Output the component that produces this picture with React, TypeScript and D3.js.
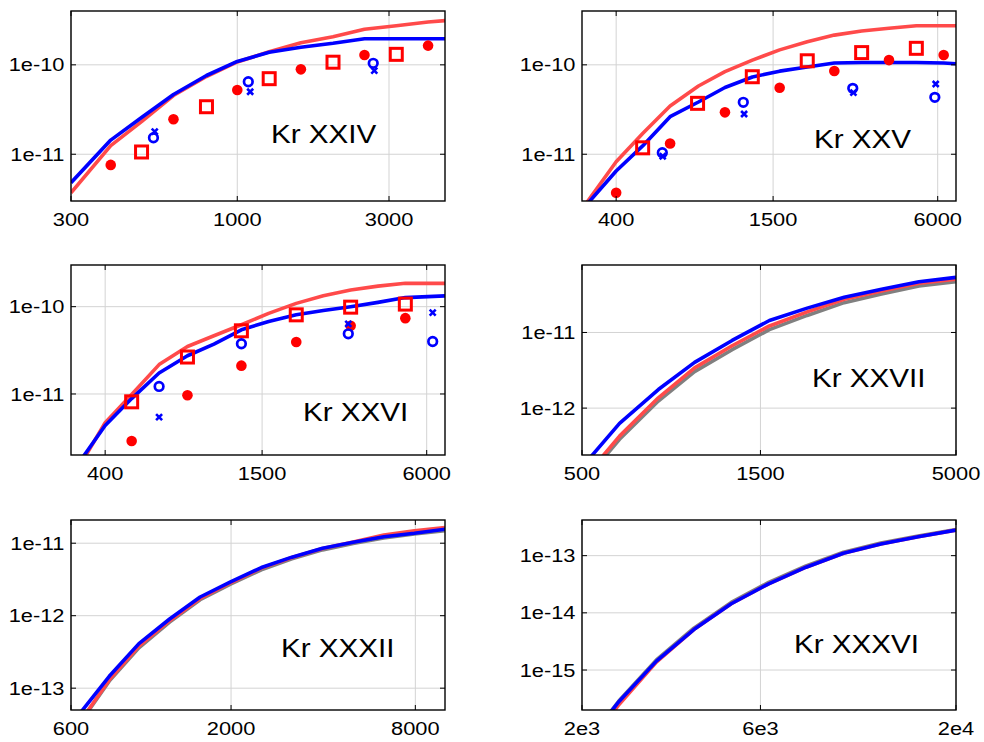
import React from 'react';
import * as d3 from 'd3';

// ---------- Kr XXIV ----------
const kr24Energy = [300, 400, 500, 630, 800, 1000, 1260, 1585, 2000, 2512, 3162, 3981, 4500];
const kr24Blue = [4.8e-12, 1.44e-11, 2.58e-11, 4.66e-11, 7.6e-11, 1.09e-10, 1.38e-10, 1.57e-10, 1.74e-10, 1.96e-10, 1.96e-10, 1.96e-10, 1.96e-10];
const kr24Red = [3.71e-12, 1.25e-11, 2.32e-11, 4.54e-11, 7.4e-11, 1.076e-10, 1.4e-10, 1.77e-10, 2.06e-10, 2.5e-10, 2.74e-10, 3.01e-10, 3.12e-10];
const kr24DotE = [400, 630, 1000, 1585, 2512, 3981];
const kr24DotV = [7.6e-12, 2.46e-11, 5.23e-11, 8.9e-11, 1.29e-10, 1.64e-10];
const kr24SqE = [500, 800, 1260, 2000, 3162];
const kr24SqV = [1.06e-11, 3.4e-11, 7.0e-11, 1.07e-10, 1.31e-10];
const kr24RingE = [545, 1083, 2676];
const kr24RingV = [1.53e-11, 6.47e-11, 1.04e-10];
const kr24CrossE = [550, 1098, 2697];
const kr24CrossV = [1.79e-11, 5.0e-11, 8.6e-11];

// ---------- Kr XXV ----------
const kr25Energy = [300, 400, 500, 630, 800, 1000, 1260, 1585, 2000, 2512, 3162, 3981, 5012, 6310, 7000];
const kr25Blue = [2.38e-12, 6.49e-12, 1.24e-11, 2.63e-11, 3.84e-11, 5.58e-11, 7.31e-11, 8.5e-11, 9.46e-11, 1.05e-10, 1.06e-10, 1.06e-10, 1.06e-10, 1.05e-10, 1.03e-10];
const kr25Red = [2.43e-12, 8.25e-12, 1.71e-11, 3.46e-11, 5.8e-11, 8.38e-11, 1.13e-10, 1.47e-10, 1.81e-10, 2.15e-10, 2.39e-10, 2.56e-10, 2.74e-10, 2.74e-10, 2.74e-10];
const kr25DotE = [400, 630, 1000, 1585, 2512, 3981, 6310];
const kr25DotV = [3.71e-12, 1.32e-11, 2.94e-11, 5.55e-11, 8.53e-11, 1.13e-10, 1.29e-10];
const kr25SqE = [500, 794, 1259, 2000, 3162, 5012];
const kr25SqV = [1.18e-11, 3.71e-11, 7.36e-11, 1.11e-10, 1.37e-10, 1.53e-10];
const kr25RingE = [590, 1167, 2934, 5857];
const kr25RingV = [1.04e-11, 3.81e-11, 5.46e-11, 4.33e-11];
const kr25CrossE = [592, 1175, 2950, 5900];
const kr25CrossV = [9.5e-12, 2.82e-11, 4.88e-11, 6.1e-11];

// ---------- Kr XXVI ----------
const kr26Energy = [300, 400, 500, 630, 800, 1000, 1260, 1585, 2000, 2512, 3162, 3981, 5012, 7000];
const kr26Blue = [1.21e-12, 4.36e-12, 8.85e-12, 1.74e-11, 2.74e-11, 3.73e-11, 5.43e-11, 6.76e-11, 8.06e-11, 9.02e-11, 1.0e-10, 1.12e-10, 1.27e-10, 1.33e-10];
const kr26Red = [1.02e-12, 4.68e-12, 9.84e-12, 2.17e-11, 3.5e-11, 4.64e-11, 6.2e-11, 8.38e-11, 1.09e-10, 1.33e-10, 1.55e-10, 1.72e-10, 1.85e-10, 1.85e-10];
const kr26DotE = [500, 800, 1260, 2000, 3162, 5012];
const kr26DotV = [2.89e-12, 9.66e-12, 2.11e-11, 3.93e-11, 6.03e-11, 7.39e-11];
const kr26SqE = [500, 800, 1260, 2000, 3162, 5012];
const kr26SqV = [8.13e-12, 2.65e-11, 5.29e-11, 8.06e-11, 9.87e-11, 1.07e-10];
const kr26RingE = [630, 1260, 3100, 6310];
const kr26RingV = [1.22e-11, 3.76e-11, 4.89e-11, 3.99e-11];
const kr26CrossE = [630, 3100, 6310];
const kr26CrossV = [5.43e-12, 6.36e-11, 8.56e-11];

// ---------- Kr XXVII ----------
const kr27Energy = [500, 630, 800, 1000, 1260, 1585, 2000, 2512, 3162, 3981, 5000];
const kr27Blue = [1.66e-13, 6.29e-13, 1.76e-12, 4.03e-12, 7.85e-12, 1.44e-11, 2.1e-11, 2.92e-11, 3.73e-11, 4.69e-11, 5.36e-11];
const kr27Red = [1.1e-13, 4.26e-13, 1.37e-12, 3.4e-12, 6.68e-12, 1.22e-11, 1.87e-11, 2.75e-11, 3.54e-11, 4.47e-11, 5.05e-11];
const kr27Gray = [1.0e-13, 3.87e-13, 1.24e-12, 3.04e-12, 5.92e-12, 1.09e-11, 1.68e-11, 2.48e-11, 3.23e-11, 4.11e-11, 4.69e-11];

// ---------- Kr XXXII ----------
const kr32Energy = [600, 800, 1000, 1260, 1585, 2000, 2512, 3162, 3981, 5012, 6310, 7943, 10000];
const kr32Blue = [3.14e-14, 1.46e-13, 4.12e-13, 9.0e-13, 1.81e-12, 2.96e-12, 4.62e-12, 6.42e-12, 8.53e-12, 1.03e-11, 1.23e-11, 1.37e-11, 1.56e-11];
const kr32Red = [2.26e-14, 1.3e-13, 3.8e-13, 8.53e-13, 1.73e-12, 2.87e-12, 4.53e-12, 6.34e-12, 8.43e-12, 1.04e-11, 1.3e-11, 1.48e-11, 1.64e-11];
const kr32Gray = [2.2e-14, 1.25e-13, 3.6e-13, 8.14e-13, 1.66e-12, 2.75e-12, 4.3e-12, 6.08e-12, 8.09e-12, 9.93e-12, 1.18e-11, 1.34e-11, 1.49e-11];

// ---------- Kr XXXVI ----------
const kr36Energy = [2000, 2512, 3162, 3981, 5012, 6310, 7943, 10000, 12589, 15849, 20000];
const kr36Blue = [4.2e-17, 2.82e-16, 1.43e-15, 5.1e-15, 1.44e-14, 3.22e-14, 6.28e-14, 1.1e-13, 1.6e-13, 2.14e-13, 2.8e-13];
const kr36Red = [3.5e-17, 2.5e-16, 1.38e-15, 5.1e-15, 1.44e-14, 3.22e-14, 6.28e-14, 1.1e-13, 1.6e-13, 2.14e-13, 2.8e-13];
const kr36Gray = [4.2e-17, 2.9e-16, 1.5e-15, 5.4e-15, 1.52e-14, 3.4e-14, 6.6e-14, 1.15e-13, 1.66e-13, 2.2e-13, 2.86e-13];

// ---------- axis ticks ----------
const ticksX24 = [300, 1000, 3000];
const labelsX24 = ['300', '1000', '3000'];
const ticksX25 = [400, 1500, 6000];
const labelsX25 = ['400', '1500', '6000'];
const ticksX27 = [500, 1500, 5000];
const labelsX27 = ['500', '1500', '5000'];
const ticksX32 = [600, 2000, 8000];
const labelsX32 = ['600', '2000', '8000'];
const ticksX36 = [2000, 6000, 20000];
const labelsX36 = ['2e3', '6e3', '2e4'];
const ticksY10 = [1e-10, 1e-11];
const labelsY10 = ['1e-10', '1e-11'];
const ticksY11 = [1e-11, 1e-12];
const labelsY11 = ['1e-11', '1e-12'];
const ticksY32 = [1e-11, 1e-12, 1e-13];
const labelsY32 = ['1e-11', '1e-12', '1e-13'];
const ticksY36 = [1e-13, 1e-14, 1e-15];
const labelsY36 = ['1e-13', '1e-14', '1e-15'];

type Pts = { x: number[]; y: number[] };
interface PanelSpec {
  id: string;
  title: string;
  col: number;
  row: number;
  xDomain: [number, number];
  yDomain: [number, number];
  xTicks: number[];
  xLabels: string[];
  yTicks: number[];
  yLabels: string[];
  titleDx: number;
  titleDy: number;
  gray?: Pts;
  red: Pts;
  blue: Pts;
  dots?: Pts;
  squares?: Pts;
  rings?: Pts;
  crosses?: Pts;
}

const panels: PanelSpec[] = [
  {
    id: 'p24', title: 'Kr XXIV', col: 0, row: 0,
    xDomain: [300, 4500], yDomain: [3e-12, 4e-10],
    xTicks: ticksX24, xLabels: labelsX24, yTicks: ticksY10, yLabels: labelsY10,
    titleDx: 200, titleDy: 132,
    red: { x: kr24Energy, y: kr24Red }, blue: { x: kr24Energy, y: kr24Blue },
    dots: { x: kr24DotE, y: kr24DotV }, squares: { x: kr24SqE, y: kr24SqV },
    rings: { x: kr24RingE, y: kr24RingV }, crosses: { x: kr24CrossE, y: kr24CrossV },
  },
  {
    id: 'p25', title: 'Kr XXV', col: 1, row: 0,
    xDomain: [300, 7000], yDomain: [3e-12, 4e-10],
    xTicks: ticksX25, xLabels: labelsX25, yTicks: ticksY10, yLabels: labelsY10,
    titleDx: 232, titleDy: 137,
    red: { x: kr25Energy, y: kr25Red }, blue: { x: kr25Energy, y: kr25Blue },
    dots: { x: kr25DotE, y: kr25DotV }, squares: { x: kr25SqE, y: kr25SqV },
    rings: { x: kr25RingE, y: kr25RingV }, crosses: { x: kr25CrossE, y: kr25CrossV },
  },
  {
    id: 'p26', title: 'Kr XXVI', col: 0, row: 1,
    xDomain: [300, 7000], yDomain: [2e-12, 3e-10],
    xTicks: ticksX25, xLabels: labelsX25, yTicks: ticksY10, yLabels: labelsY10,
    titleDx: 232, titleDy: 156,
    red: { x: kr26Energy, y: kr26Red }, blue: { x: kr26Energy, y: kr26Blue },
    dots: { x: kr26DotE, y: kr26DotV }, squares: { x: kr26SqE, y: kr26SqV },
    rings: { x: kr26RingE, y: kr26RingV }, crosses: { x: kr26CrossE, y: kr26CrossV },
  },
  {
    id: 'p27', title: 'Kr XXVII', col: 1, row: 1,
    xDomain: [500, 5000], yDomain: [2.4e-13, 7.8e-11],
    xTicks: ticksX27, xLabels: labelsX27, yTicks: ticksY11, yLabels: labelsY11,
    titleDx: 230, titleDy: 122,
    gray: { x: kr27Energy, y: kr27Gray },
    red: { x: kr27Energy, y: kr27Red }, blue: { x: kr27Energy, y: kr27Blue },
  },
  {
    id: 'p32', title: 'Kr XXXII', col: 0, row: 2,
    xDomain: [600, 10000], yDomain: [5e-14, 2.09e-11],
    xTicks: ticksX32, xLabels: labelsX32, yTicks: ticksY32, yLabels: labelsY32,
    titleDx: 210, titleDy: 137,
    gray: { x: kr32Energy, y: kr32Gray },
    red: { x: kr32Energy, y: kr32Red }, blue: { x: kr32Energy, y: kr32Blue },
  },
  {
    id: 'p36', title: 'Kr XXXVI', col: 1, row: 2,
    xDomain: [2000, 20000], yDomain: [2e-16, 4.2e-13],
    xTicks: ticksX36, xLabels: labelsX36, yTicks: ticksY36, yLabels: labelsY36,
    titleDx: 212, titleDy: 133,
    gray: { x: kr36Energy, y: kr36Gray },
    red: { x: kr36Energy, y: kr36Red }, blue: { x: kr36Energy, y: kr36Blue },
  },
];

const COL_LEFT = [71, 582];
const ROW_TOP = [11, 265, 520];
const BOX_W = 374;
const BOX_H = 190;

const FONT = 'Liberation Sans, Arial, Helvetica, sans-serif';
const RED_LINE = '#ff4a4a';
const RED_MARK = '#ff0000';
const BLUE = '#0000ff';
const GRAY = '#808080';
const GRID = '#d3d3d3';

function PanelView({ p }: { p: PanelSpec }) {
  const left = COL_LEFT[p.col];
  const top = ROW_TOP[p.row];
  const x = d3.scaleLog().domain(p.xDomain).range([0, BOX_W]);
  const y = d3.scaleLog().domain(p.yDomain).range([BOX_H, 0]);
  const lineGen = d3
    .line<[number, number]>()
    .x((d) => x(d[0]))
    .y((d) => y(d[1]));
  const path = (s: Pts) => lineGen(s.x.map((e, i) => [e, s.y[i]] as [number, number])) || '';
  const clipId = `clip-${p.id}`;
  const tick = 5;
  return (
    <g transform={`translate(${left},${top})`}>
      <defs>
        <clipPath id={clipId}>
          <rect x={0} y={0} width={BOX_W} height={BOX_H} />
        </clipPath>
      </defs>
      <rect x={0} y={0} width={BOX_W} height={BOX_H} fill="#fff" />
      {p.xTicks.map((t) => (
        <line key={`gx${t}`} x1={x(t)} x2={x(t)} y1={0} y2={BOX_H} stroke={GRID} strokeWidth={1} />
      ))}
      {p.yTicks.map((t) => (
        <line key={`gy${t}`} x1={0} x2={BOX_W} y1={y(t)} y2={y(t)} stroke={GRID} strokeWidth={1} />
      ))}
      <g clipPath={`url(#${clipId})`} fill="none" strokeLinejoin="round">
        {p.gray && <path d={path(p.gray)} stroke={GRAY} strokeWidth={3.6} />}
        <path d={path(p.red)} stroke={RED_LINE} strokeWidth={3.6} />
        <path d={path(p.blue)} stroke={BLUE} strokeWidth={3.6} />
      </g>
      {p.dots &&
        p.dots.x.map((e, i) => (
          <circle key={`d${i}`} cx={x(e)} cy={y(p.dots!.y[i])} r={5.3} fill={RED_MARK} />
        ))}
      {p.squares &&
        p.squares.x.map((e, i) => (
          <rect
            key={`s${i}`}
            x={x(e) - 6}
            y={y(p.squares!.y[i]) - 6}
            width={12}
            height={12}
            fill="none"
            stroke={RED_MARK}
            strokeWidth={3}
          />
        ))}
      {p.rings &&
        p.rings.x.map((e, i) => (
          <circle key={`r${i}`} cx={x(e)} cy={y(p.rings!.y[i])} r={4.3} fill="none" stroke={BLUE} strokeWidth={2.7} />
        ))}
      {p.crosses &&
        p.crosses.x.map((e, i) => {
          const cx = x(e);
          const cy = y(p.crosses!.y[i]);
          const h = 3;
          return (
            <path
              key={`c${i}`}
              d={`M${cx - h},${cy - h}L${cx + h},${cy + h}M${cx - h},${cy + h}L${cx + h},${cy - h}`}
              stroke={BLUE}
              strokeWidth={2.6}
              fill="none"
            />
          );
        })}
      <rect x={0} y={0} width={BOX_W} height={BOX_H} fill="none" stroke="#000" strokeWidth={1.4} />
      {p.xTicks.map((t) => (
        <g key={`tx${t}`} stroke="#000" strokeWidth={1}>
          <line x1={x(t)} x2={x(t)} y1={BOX_H} y2={BOX_H - tick} />
          <line x1={x(t)} x2={x(t)} y1={0} y2={tick} />
        </g>
      ))}
      {p.yTicks.map((t) => (
        <g key={`ty${t}`} stroke="#000" strokeWidth={1}>
          <line x1={0} x2={tick} y1={y(t)} y2={y(t)} />
          <line x1={BOX_W} x2={BOX_W - tick} y1={y(t)} y2={y(t)} />
        </g>
      ))}
      {p.xTicks.map((t, i) => (
        <text
          key={`lx${t}`}
          transform={`translate(${x(t)},${BOX_H + 25}) scale(1.18,1)`}
          textAnchor="middle"
          fontFamily={FONT}
          fontSize={18.5}
          fill="#000"
        >
          {p.xLabels[i]}
        </text>
      ))}
      {p.yTicks.map((t, i) => (
        <text
          key={`ly${t}`}
          transform={`translate(${-6.5},${y(t) + 6.6}) scale(1.18,1)`}
          textAnchor="end"
          fontFamily={FONT}
          fontSize={18.5}
          fill="#000"
        >
          {p.yLabels[i]}
        </text>
      ))}
      <text
        transform={`translate(${p.titleDx},${p.titleDy}) scale(1.14,1)`}
        fontFamily={FONT}
        fontSize={26}
        fill="#000"
      >
        {p.title}
      </text>
    </g>
  );
}

export default function App() {
  return (
    <svg
      width={984}
      height={742}
      viewBox="0 0 984 742"
      style={{ position: 'absolute', left: 0, top: 0, background: '#fff' }}
    >
      <rect width={984} height={742} fill="#fff" />
      {panels.map((p) => (
        <PanelView key={p.id} p={p} />
      ))}
    </svg>
  );
}
